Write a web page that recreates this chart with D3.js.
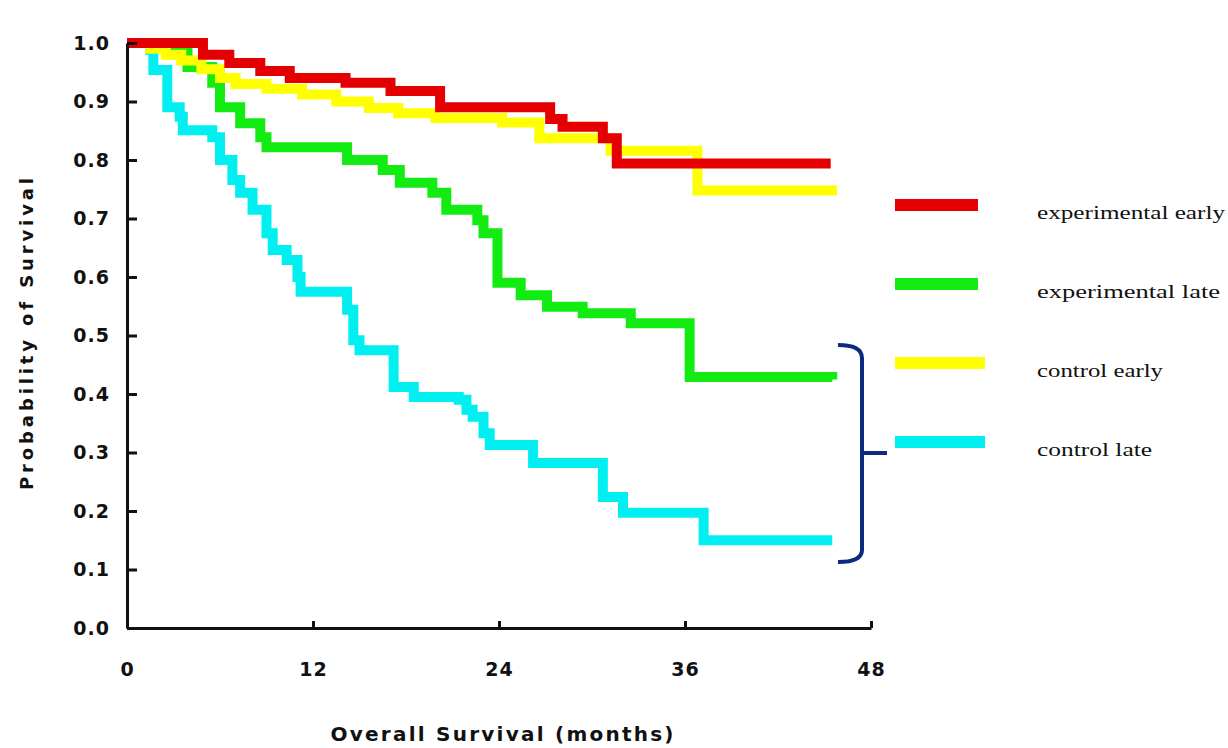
<!DOCTYPE html>
<html lang="en">
<head>
  <meta charset="UTF-8">
  <title>Overall Survival</title>
  <script src="https://d3js.org/d3.v7.min.js"></script>
  <style>
    body { margin: 0; background: #fff; }
    svg { display: block; }
    .tick text { font-family: 'DejaVu Sans', sans-serif; font-weight: bold; font-size: 19px; fill: #111; }
    .axis path, .axis line { stroke: #111; stroke-width: 3px; }
    .title { font-family: 'DejaVu Sans', sans-serif; font-weight: bold; fill: #111; }
    .legend text { font-family: 'Liberation Serif', 'Times New Roman', serif; font-size: 19px; fill: #111; }
  </style>
</head>
<body>
  <svg id="chart" width="1228" height="748"></svg>
  <script>
    // months / survival probability
    const expEarlyT = [0, 4.9, 6.6, 8.6, 10.5, 14.1, 17.0, 20.2, 27.3, 28.1, 30.7, 31.6, 45.4];
    const expEarlyS = [1.0, 0.98, 0.966, 0.952, 0.94, 0.932, 0.918, 0.89, 0.87, 0.857, 0.837, 0.794, 0.794];

    const expLateT = [0, 2.8, 3.9, 5.5, 6.0, 7.3, 8.6, 9.0, 14.2, 16.5, 17.6, 19.7, 20.6, 22.6, 23.0, 23.9, 25.4, 27.1, 29.4, 32.5, 36.3, 45.5];
    const expLateS = [1.0, 0.986, 0.959, 0.932, 0.89, 0.863, 0.839, 0.822, 0.8, 0.783, 0.761, 0.744, 0.715, 0.697, 0.675, 0.59, 0.569, 0.549, 0.538, 0.521, 0.429, 0.425];

    const ctrlEarlyT = [0, 1.5, 2.5, 3.5, 4.8, 6.0, 7.0, 9.0, 11.3, 13.5, 15.6, 17.5, 19.9, 24.2, 26.6, 31.2, 36.8, 45.8];
    const ctrlEarlyS = [1.0, 0.99, 0.98, 0.97, 0.955, 0.94, 0.93, 0.922, 0.912, 0.9, 0.889, 0.88, 0.872, 0.864, 0.837, 0.816, 0.748, 0.748];

    const ctrlLateT = [0, 1.5, 1.7, 2.6, 3.4, 3.6, 5.5, 6.0, 6.8, 7.3, 8.1, 9.0, 9.4, 10.3, 11.0, 11.2, 14.2, 14.6, 15.0, 17.2, 18.5, 21.4, 21.9, 22.3, 23.0, 23.4, 26.2, 30.7, 32.0, 37.2, 45.5];
    const ctrlLateS = [1.0, 0.988, 0.954, 0.89, 0.874, 0.851, 0.839, 0.8, 0.766, 0.744, 0.715, 0.675, 0.646, 0.629, 0.6, 0.575, 0.544, 0.492, 0.475, 0.412, 0.395, 0.39, 0.373, 0.361, 0.333, 0.313, 0.282, 0.224, 0.197, 0.15, 0.15];

    const seriesNames = ['experimental early', 'experimental late', 'control early', 'control late'];
    const seriesColors = ['#e40000', '#13ec13', '#ffff00', '#00f0f2'];
    const xTicks = [0, 12, 24, 36, 48];
    const yTicks = [0, 0.1, 0.2, 0.3, 0.4, 0.5, 0.6, 0.7, 0.8, 0.9, 1.0];

    const series = [
      { name: seriesNames[0], t: expEarlyT, s: expEarlyS, color: seriesColors[0] },
      { name: seriesNames[1], t: expLateT, s: expLateS, color: seriesColors[1] },
      { name: seriesNames[2], t: ctrlEarlyT, s: ctrlEarlyS, color: seriesColors[2] },
      { name: seriesNames[3], t: ctrlLateT, s: ctrlLateS, color: seriesColors[3] }
    ];

    const svg = d3.select('#chart');
    const x = d3.scaleLinear().domain([0, 48]).range([127, 871]);
    const y = d3.scaleLinear().domain([0, 1]).range([628, 43]);

    // curves (drawn back to front so red sits on top like the original)
    const line = d3.line()
      .x(d => x(d[0]))
      .y(d => y(d[1]))
      .curve(d3.curveStepAfter);

    const drawOrder = [3, 1, 2, 0];
    svg.append('g')
      .selectAll('path')
      .data(drawOrder.map(i => series[i]))
      .enter().append('path')
      .attr('d', d => line(d.t.map((v, i) => [v, d.s[i]])))
      .attr('fill', 'none')
      .attr('stroke', d => d.color)
      .attr('stroke-width', 10)
      .attr('stroke-linejoin', 'miter');

    // axes
    const yAxis = d3.axisLeft(y)
      .tickValues(yTicks)
      .tickFormat(d3.format('.1f'))
      .tickSizeInner(-10)
      .tickSizeOuter(0)
      .tickPadding(17);
    svg.append('g')
      .attr('class', 'axis')
      .attr('transform', `translate(${x(0)},0)`)
      .call(yAxis)
      .selectAll('line').attr('stroke-width', 2);

    const xAxis = d3.axisBottom(x)
      .tickValues(xTicks)
      .tickSizeInner(-7)
      .tickSizeOuter(0)
      .tickPadding(35);
    svg.append('g')
      .attr('class', 'axis')
      .attr('transform', `translate(0,${y(0)})`)
      .call(xAxis)
      .selectAll('line').attr('stroke-width', 2);

    svg.selectAll('.tick text').attr('letter-spacing', '1px');

    // axis titles
    svg.append('text')
      .attr('class', 'title')
      .attr('transform', 'translate(33,334) rotate(-90)')
      .attr('text-anchor', 'middle')
      .attr('font-size', 18)
      .attr('textLength', 312)
      .attr('lengthAdjust', 'spacing')
      .text('Probability of Survival');

    svg.append('text')
      .attr('class', 'title')
      .attr('x', 502)
      .attr('y', 741)
      .attr('text-anchor', 'middle')
      .attr('font-size', 20)
      .attr('textLength', 343)
      .attr('lengthAdjust', 'spacing')
      .text('Overall Survival (months)');

    // legend
    const legendY = d3.scalePoint().domain(seriesNames).range([205, 442]);
    const legend = svg.append('g').attr('class', 'legend');
    legend.selectAll('line')
      .data(series)
      .enter().append('line')
      .attr('x1', 895)
      .attr('x2', (d, i) => i >= 2 ? 985 : 978)
      .attr('y1', d => legendY(d.name))
      .attr('y2', d => legendY(d.name))
      .attr('stroke', d => d.color)
      .attr('stroke-width', 12);
    const labelWidths = [188, 183, 126, 115];
    legend.selectAll('text')
      .data(series)
      .enter().append('text')
      .attr('x', 1037)
      .attr('y', d => legendY(d.name) + 14)
      .attr('textLength', (d, i) => labelWidths[i])
      .attr('lengthAdjust', 'spacingAndGlyphs')
      .text(d => d.name);

    // bracket grouping the two "late" curves
    svg.append('path')
      .attr('d', 'M838,345 Q862,345 862,358 L862,550 Q862,562 838,562 M862,453 L887,453')
      .attr('fill', 'none')
      .attr('stroke', '#0b2a80')
      .attr('stroke-width', 4);
  </script>
</body>
</html>
